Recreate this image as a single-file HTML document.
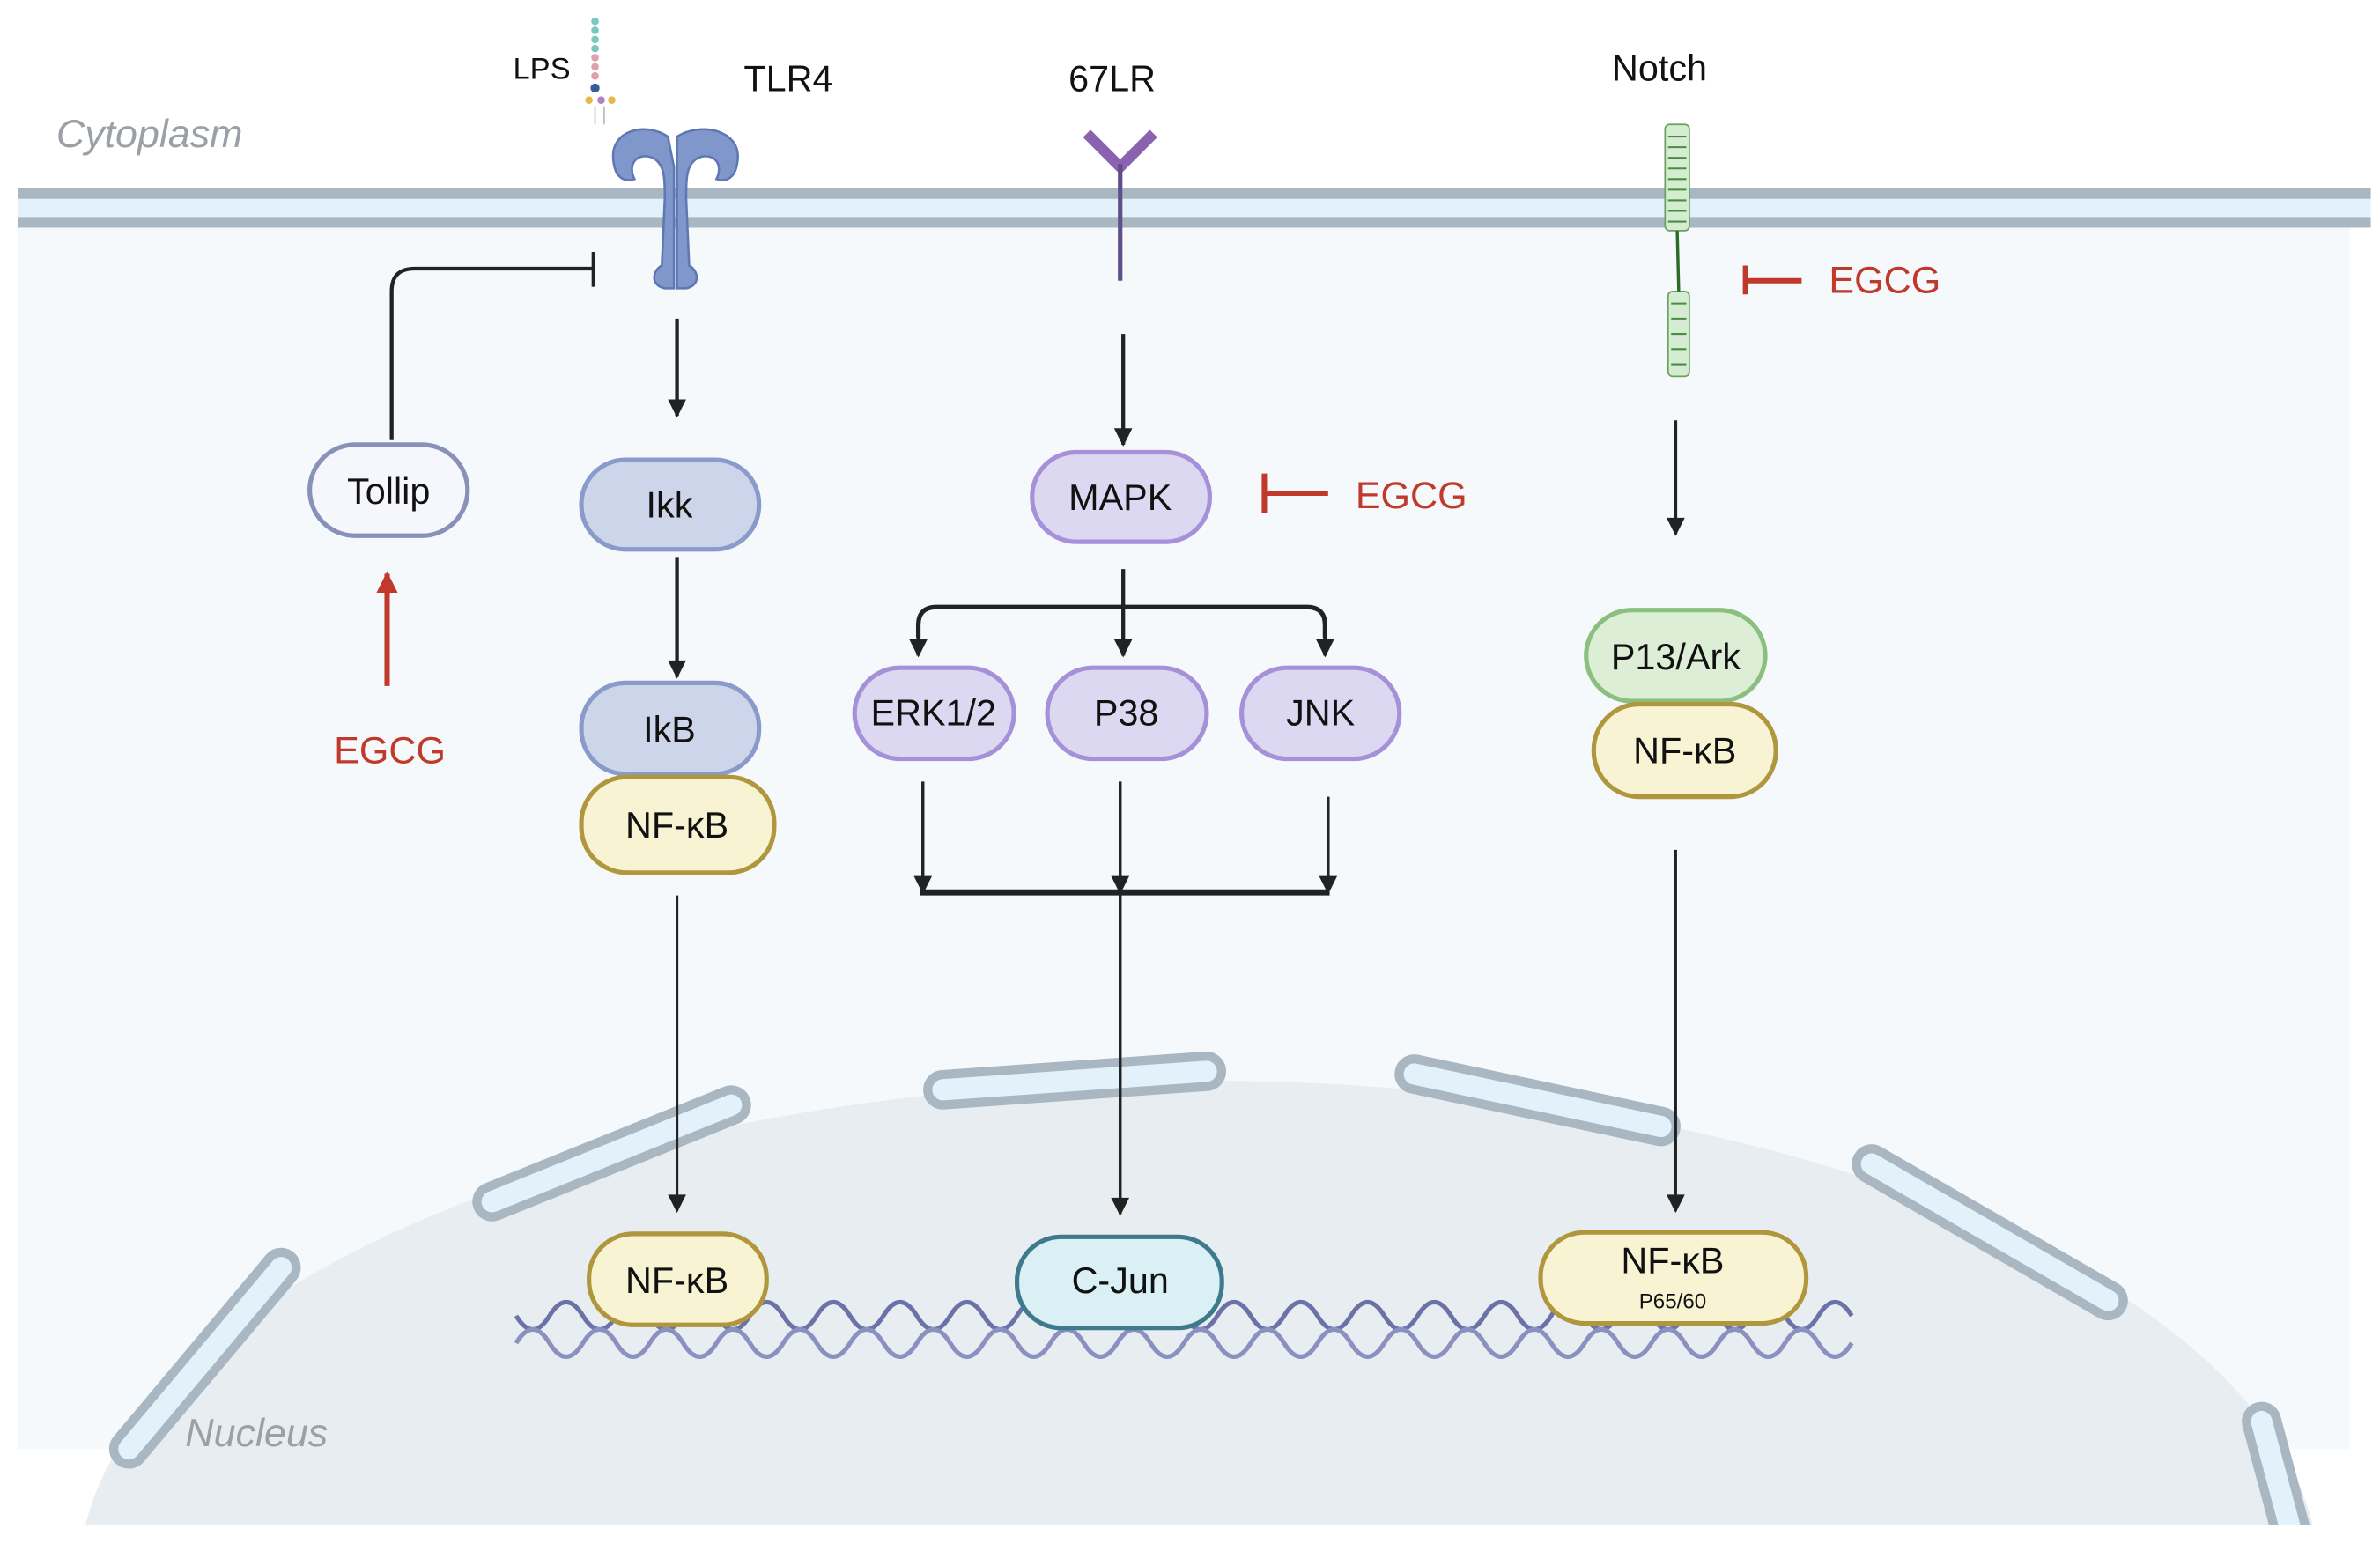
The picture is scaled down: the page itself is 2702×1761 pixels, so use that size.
<!DOCTYPE html>
<html><head><meta charset="utf-8"><style>
html,body{margin:0;padding:0;background:#fff;overflow:hidden;width:2702px;height:1761px}
svg{display:block}
text{font-family:"Liberation Sans",sans-serif}
</style></head><body>
<svg width="2702" height="1761" viewBox="0 0 1568 1022" xmlns="http://www.w3.org/2000/svg">
<defs>
<marker id="ah" viewBox="0 0 10 10" refX="9" refY="5" markerWidth="16" markerHeight="12" markerUnits="userSpaceOnUse" orient="auto"><path d="M0,0 L10,5 L0,10 z" fill="#222"/></marker>
<marker id="ahr" viewBox="0 0 10 10" refX="9" refY="5" markerWidth="16" markerHeight="14" markerUnits="userSpaceOnUse" orient="auto"><path d="M0,0 L10,5 L0,10 z" fill="#c0392b"/></marker>
<clipPath id="cl"><rect x="0" y="0" width="1568" height="1005"/></clipPath>
</defs>
<rect width="1568" height="1022" fill="#fff"/>
<rect x="12" y="148" width="1536" height="807" fill="#f5f9fc"/>
<rect x="12" y="129" width="1550" height="17" fill="#e3f1fb"/>
<rect x="12" y="124" width="1550" height="7" fill="#a9b7c2"/>
<rect x="12" y="143" width="1550" height="7" fill="#a9b7c2"/>
<g clip-path="url(#cl)">
<ellipse cx="790" cy="1040" rx="738" ry="328" fill="#e8edf1"/>
<g fill="#e3f1fb" stroke="#a9b7c2" stroke-width="6">
<rect x="-95" y="-10" width="190" height="20" rx="10" transform="translate(403,760) rotate(-22)"/>
<rect x="-97" y="-10" width="194" height="20" rx="10" transform="translate(708,712) rotate(-4)"/>
<rect x="-93" y="-10" width="186" height="20" rx="10" transform="translate(1013,725) rotate(12)"/>
<rect x="-100" y="-10" width="200" height="20" rx="10" transform="translate(1311,812) rotate(30)"/>
<rect x="-88" y="-10" width="176" height="20" rx="10" transform="translate(135,895) rotate(-50)"/>
<rect x="-60" y="-10" width="120" height="20" rx="10" transform="translate(1503,985) rotate(75)"/>
</g>
</g>
<g fill="none" stroke="#6b72a8" stroke-width="3">
<path d="M340,867 q11,18 22,0 t22,0 t22,0 t22,0 t22,0 t22,0 t22,0 t22,0 t22,0 t22,0 t22,0 t22,0 t22,0 t22,0 t22,0 t22,0 t22,0 t22,0 t22,0 t22,0 t22,0 t22,0 t22,0 t22,0 t22,0 t22,0 t22,0 t22,0 t22,0 t22,0 t22,0 t22,0 t22,0 t22,0 t22,0 t22,0 t22,0 t22,0 t22,0 t22,0"/>
<path d="M340,885 q11,-18 22,0 t22,0 t22,0 t22,0 t22,0 t22,0 t22,0 t22,0 t22,0 t22,0 t22,0 t22,0 t22,0 t22,0 t22,0 t22,0 t22,0 t22,0 t22,0 t22,0 t22,0 t22,0 t22,0 t22,0 t22,0 t22,0 t22,0 t22,0 t22,0 t22,0 t22,0 t22,0 t22,0 t22,0 t22,0 t22,0 t22,0 t22,0 t22,0 t22,0" stroke="#8a90bf"/>
</g>
<text x="37" y="97" font-size="26" font-style="italic" fill="#9aa0a6">Cytoplasm</text>
<text x="122" y="953" font-size="26" font-style="italic" fill="#9aa0a6">Nucleus</text>
<text x="338" y="52" font-size="20" fill="#111">LPS</text>
<text x="490" y="60" font-size="24" fill="#111">TLR4</text>
<text x="704" y="60" font-size="24" fill="#111">67LR</text>
<text x="1062" y="53" font-size="24" fill="#111">Notch</text>
<g fill="#7cc8c0"><circle cx="392" cy="14" r="2.5"/><circle cx="392" cy="20" r="2.5"/><circle cx="392" cy="26" r="2.5"/><circle cx="392" cy="32" r="2.5"/></g>
<g fill="#e0a0b0"><circle cx="392" cy="38" r="2.5"/><circle cx="392" cy="44" r="2.5"/><circle cx="392" cy="50" r="2.5"/></g>
<circle cx="392" cy="58" r="3" fill="#3a5a9a"/>
<circle cx="388" cy="66" r="2.5" fill="#e8b84a"/><circle cx="396" cy="66" r="2.5" fill="#b080c0"/><circle cx="403" cy="66" r="2.5" fill="#e8b84a"/>
<path d="M392,70 v12 M398,70 v12" stroke="#bbb" stroke-width="1"/>
<g fill="#8097cc" stroke="#5f78b4" stroke-width="1.5">
<path d="M440,90 C425,80 402,86 404,105 C405,118 412,120 418,118 C413,108 420,100 430,104 C438,108 438,118 438,130 L436,175 C430,178 428,188 438,190 L444,190 L444,110 Z"/>
<path d="M446,90 C462,80 488,86 486,105 C485,118 478,120 472,118 C477,108 470,100 460,104 C452,108 452,118 452,130 L454,175 C460,178 462,188 452,190 L446,190 L446,110 Z"/>
</g>
<path d="M716,88 L738,110 L760,88" fill="none" stroke="#8a62b0" stroke-width="7"/>
<line x1="738" y1="108" x2="738" y2="185" stroke="#5e4f8a" stroke-width="3"/>
<g stroke="#6aa060" stroke-width="1" fill="#d4ecd0">
<rect x="1097" y="82" width="16" height="70" rx="3"/>
<rect x="1099" y="192" width="14" height="56" rx="3"/>
</g>
<g stroke="#4c8a44" stroke-width="1.2">
<path d="M1099,90h12M1099,97h12M1099,104h12M1099,111h12M1099,118h12M1099,125h12M1099,132h12M1099,139h12M1099,146h12M1101,200h10M1101,210h10M1101,220h10M1101,230h10M1101,240h10"/>
</g>
<line x1="1105" y1="152" x2="1106" y2="192" stroke="#2e6a2a" stroke-width="2"/>
<g stroke="#222" stroke-width="2.5" fill="none">
<line x1="446" y1="210" x2="446" y2="274" marker-end="url(#ah)"/>
<line x1="446" y1="367" x2="446" y2="446" marker-end="url(#ah)"/>
<line x1="446" y1="590" x2="446" y2="798" stroke-width="1.8" marker-end="url(#ah)"/>
<line x1="740" y1="220" x2="740" y2="293" marker-end="url(#ah)"/>
<path d="M258,290 V192 Q258,177 273,177 H390"/>
<line x1="391" y1="166" x2="391" y2="189"/>
<path d="M740,375 V432" marker-end="url(#ah)"/>
<path d="M605,420 V412 Q605,400 617,400 H861 Q873,400 873,412 V420" stroke-width="3"/>
<line x1="605" y1="418" x2="605" y2="432" marker-end="url(#ah)"/>
<line x1="873" y1="418" x2="873" y2="432" marker-end="url(#ah)"/>
<line x1="608" y1="515" x2="608" y2="588" stroke-width="2" marker-end="url(#ah)"/>
<line x1="738" y1="515" x2="738" y2="588" stroke-width="2" marker-end="url(#ah)"/>
<line x1="875" y1="525" x2="875" y2="588" stroke-width="2" marker-end="url(#ah)"/>
<line x1="606" y1="588" x2="876" y2="588" stroke-width="4"/>
<line x1="738" y1="588" x2="738" y2="800" stroke-width="2" marker-end="url(#ah)"/>
<line x1="1104" y1="277" x2="1104" y2="352" stroke-width="2" marker-end="url(#ah)"/>
<line x1="1104" y1="560" x2="1104" y2="798" stroke-width="1.8" marker-end="url(#ah)"/>
</g>
<g stroke="#c0392b" stroke-width="3.5" fill="none">
<line x1="255" y1="452" x2="255" y2="378" marker-end="url(#ahr)"/>
<line x1="833" y1="312" x2="833" y2="338"/><line x1="833" y1="325" x2="875" y2="325"/>
<line x1="1150" y1="175" x2="1150" y2="194"/><line x1="1150" y1="185" x2="1187" y2="185"/>
</g>
<g font-size="25" fill="#c0392b">
<text x="220" y="503">EGCG</text>
<text x="893" y="335">EGCG</text>
<text x="1205" y="193">EGCG</text>
</g>
<g stroke-width="3" font-size="24" text-anchor="middle">
<rect x="204" y="293" width="104" height="60" rx="30" fill="#f5f7fc" stroke="#8892b8"/>
<text x="256" y="332" stroke="none" fill="#111">Tollip</text>
<rect x="383" y="303" width="117" height="59" rx="29" fill="#cdd5ea" stroke="#8a9bcb"/>
<text x="441" y="341" stroke="none" fill="#111">Ikk</text>
<rect x="383" y="450" width="117" height="60" rx="29" fill="#cdd5ea" stroke="#8a9bcb"/>
<text x="441" y="489" stroke="none" fill="#111">IkB</text>
<rect x="383" y="512" width="127" height="63" rx="30" fill="#f8f3d2" stroke="#b0963c"/>
<text x="446" y="552" stroke="none" fill="#111">NF-κB</text>
<rect x="680" y="298" width="117" height="59" rx="29" fill="#ddd8f2" stroke="#a690d8"/>
<text x="738" y="336" stroke="none" fill="#111">MAPK</text>
<rect x="563" y="440" width="105" height="60" rx="30" fill="#ddd8f2" stroke="#a690d8"/>
<text x="615" y="478" stroke="none" fill="#111">ERK1/2</text>
<rect x="690" y="440" width="105" height="60" rx="30" fill="#ddd8f2" stroke="#a690d8"/>
<text x="742" y="478" stroke="none" fill="#111">P38</text>
<rect x="818" y="440" width="104" height="60" rx="30" fill="#ddd8f2" stroke="#a690d8"/>
<text x="870" y="478" stroke="none" fill="#111">JNK</text>
<rect x="1045" y="402" width="118" height="60" rx="30" fill="#dcefd6" stroke="#8bbf7e"/>
<text x="1104" y="441" stroke="none" fill="#111">P13/Ark</text>
<rect x="1050" y="464" width="120" height="61" rx="30" fill="#f8f3d2" stroke="#b0963c"/>
<text x="1110" y="503" stroke="none" fill="#111">NF-κB</text>
<rect x="388" y="813" width="117" height="60" rx="29" fill="#f8f3d2" stroke="#b0963c"/>
<text x="446" y="852" stroke="none" fill="#111">NF-κB</text>
<rect x="670" y="815" width="135" height="60" rx="29" fill="#daf0f5" stroke="#3d7b8c"/>
<text x="738" y="852" stroke="none" fill="#111">C-Jun</text>
<rect x="1015" y="812" width="175" height="60" rx="29" fill="#f8f3d2" stroke="#b0963c"/>
<text x="1102" y="839" stroke="none" fill="#111">NF-κB</text>
<text x="1102" y="862" stroke="none" fill="#111" font-size="14">P65/60</text>
</g>
</svg>
</body></html>
